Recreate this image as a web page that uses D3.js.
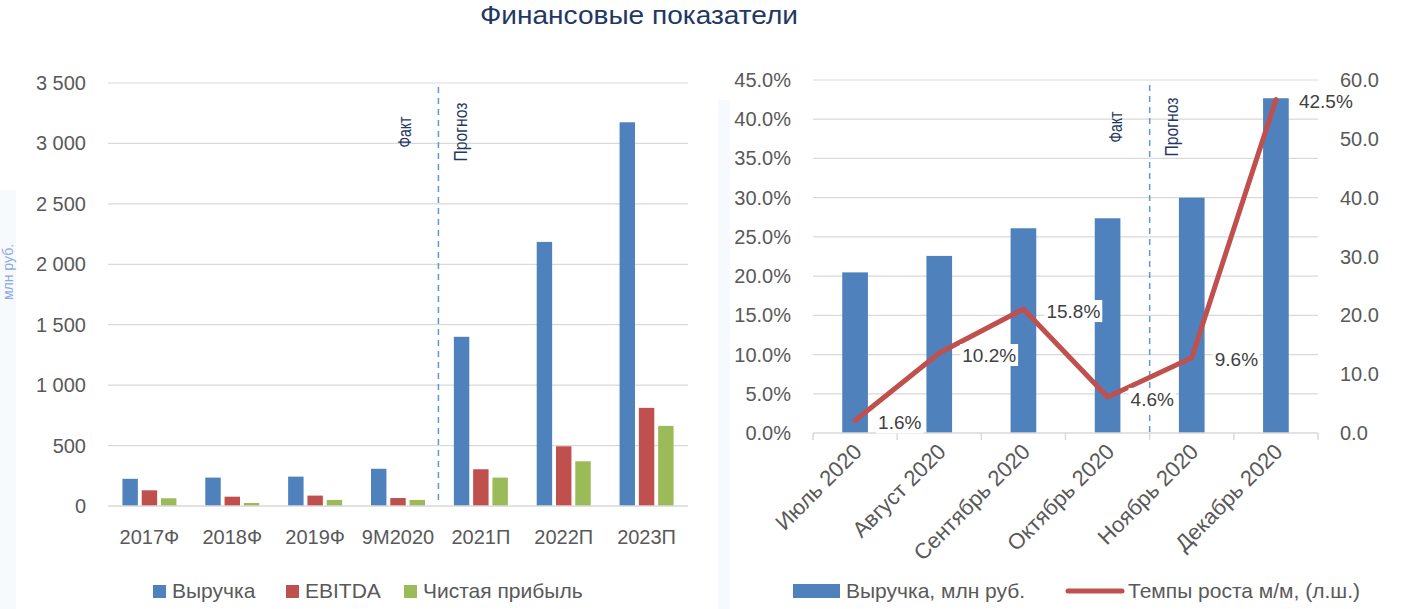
<!DOCTYPE html>
<html>
<head>
<meta charset="utf-8">
<script src="https://cdn.jsdelivr.net/npm/d3@7"></script>
<style>
	html, body { margin: 0; padding: 0; background: #fff; }
	svg { display: block; }
	text { font-family: "Liberation Sans", Arial, sans-serif; }
</style>
</head>
<body>
<svg id="chart" width="1402" height="609"></svg>
<script>
"use strict";

// left chart: annual figures, mln rub
var years = ["2017Ф", "2018Ф", "2019Ф", "9M2020", "2021П", "2022П", "2023П"];
var revenue = [225, 235, 243, 308, 1400, 2185, 3175];
var ebitda = [130, 77, 86, 66, 304, 494, 812];
var netProfit = [64, 25, 50, 50, 235, 370, 663];
var leftSeries = ["Выручка", "EBITDA", "Чистая прибыль"];
var leftTicks = [0, 500, 1000, 1500, 2000, 2500, 3000, 3500];

// right chart: monthly revenue and m/m growth
var months = ["Июль 2020", "Август 2020", "Сентябрь 2020", "Октябрь 2020", "Ноябрь 2020", "Декабрь 2020"];
var monthRevenue = [27.3, 30.1, 34.8, 36.5, 40.0, 56.9];
var growth = [0.016, 0.102, 0.158, 0.046, 0.096, 0.425];
var pctTicks = [0, 0.05, 0.10, 0.15, 0.20, 0.25, 0.30, 0.35, 0.40, 0.45];
var revTicks = [0, 10, 20, 30, 40, 50, 60];

var colors = ["#4f81bd", "#c0504d", "#9bbb59"];
var labelColor = "#595959";
var gridColor = "#d9d9d9";
var navy = "#1f3864";

var svg = d3.select("#chart");

// faint slide background strips
svg.append("rect").attr("x", 0).attr("y", 190).attr("width", 16).attr("height", 419).attr("fill", "#f7fafd");
svg.append("rect").attr("x", 718).attr("y", 100).attr("width", 12).attr("height", 509).attr("fill", "#f6f9fd");

svg.append("text")
    .attr("x", 639).attr("y", 24)
    .attr("text-anchor", "middle")
    .attr("textLength", 318).attr("lengthAdjust", "spacingAndGlyphs")
    .style("font-size", "26px")
    .attr("fill", navy)
    .text("Финансовые показатели");

svg.append("text")
    .attr("transform", "translate(13,272) rotate(-90)")
    .attr("text-anchor", "middle")
    .style("font-size", "14px")
    .attr("fill", "#8eaadb")
    .text("млн руб.");

function factLabels(g, x, y) {
	g.append("text")
	    .attr("transform", "translate(" + (x - 22) + "," + y + ") rotate(-90)")
	    .attr("text-anchor", "middle")
	    .attr("textLength", 31).attr("lengthAdjust", "spacingAndGlyphs")
	    .style("font-size", "19px")
	    .attr("fill", navy)
	    .text("Факт");
	g.append("text")
	    .attr("transform", "translate(" + (x + 34) + "," + y + ") rotate(-90)")
	    .attr("text-anchor", "middle")
	    .attr("textLength", 59).attr("lengthAdjust", "spacingAndGlyphs")
	    .style("font-size", "19px")
	    .attr("fill", navy)
	    .text("Прогноз");
}

// ---------- left chart ----------
(function() {
	var x0 = d3.scaleBand().domain(years).range([108, 688]);
	var bw = x0.bandwidth();
	var x1 = d3.scaleBand().domain(leftSeries).range([bw / 2 - 27, bw / 2 + 27]).paddingInner(0.2);
	var y = d3.scaleLinear().domain([0, 3500]).range([506, 83]);
	var fmt = d3.formatLocale({decimal: ",", thousands: " ", grouping: [3], currency: ["", ""]}).format(",");

	var g = svg.append("g");

	g.append("g").selectAll("line")
	    .data(leftTicks.slice(1))
	  .enter().append("line")
	    .attr("x1", 108).attr("x2", 688)
	    .attr("y1", function(d) { return y(d); })
	    .attr("y2", function(d) { return y(d); })
	    .attr("stroke", gridColor).attr("stroke-width", 1.2);

	g.append("g").selectAll("text")
	    .data(leftTicks)
	  .enter().append("text")
	    .attr("x", 86)
	    .attr("y", function(d) { return y(d); })
	    .attr("dy", "0.35em")
	    .attr("text-anchor", "end")
	    .style("font-size", "20px")
	    .attr("fill", labelColor)
	    .text(function(d) { return fmt(d); });

	var rows = years.map(function(c, i) { return [revenue[i], ebitda[i], netProfit[i]]; });

	var groups = g.append("g").selectAll("g")
	    .data(rows)
	  .enter().append("g")
	    .attr("transform", function(d, i) { return "translate(" + x0(years[i]) + ",0)"; });

	groups.selectAll("rect")
	    .data(function(d) { return d; })
	  .enter().append("rect")
	    .attr("x", function(d, j) { return x1(leftSeries[j]); })
	    .attr("y", function(d) { return y(d); })
	    .attr("width", x1.bandwidth())
	    .attr("height", function(d) { return y(0) - y(d); })
	    .attr("fill", function(d, j) { return colors[j]; });

	g.append("line")
	    .attr("x1", 108).attr("x2", 688)
	    .attr("y1", y(0)).attr("y2", y(0))
	    .attr("stroke", gridColor).attr("stroke-width", 1.5);

	g.append("g").selectAll("text")
	    .data(years)
	  .enter().append("text")
	    .attr("x", function(d) { return x0(d) + bw / 2; })
	    .attr("y", 537)
	    .attr("dy", "0.35em")
	    .attr("text-anchor", "middle")
	    .style("font-size", "20px")
	    .attr("fill", labelColor)
	    .text(function(d) { return d; });

	var split = x0("2021П") - 1;
	g.append("line")
	    .attr("x1", split).attr("x2", split)
	    .attr("y1", 87).attr("y2", 500)
	    .attr("stroke", "#5b9bd5").attr("stroke-width", 1.5)
	    .attr("stroke-dasharray", "6,5");
	factLabels(g, split - 5, 132);

	// legend
	var legX = [153, 286, 404];
	var leg = g.append("g").selectAll("g")
	    .data(leftSeries)
	  .enter().append("g")
	    .attr("transform", function(d, i) { return "translate(" + legX[i] + ",591)"; });
	leg.append("rect")
	    .attr("x", 0).attr("y", -6).attr("width", 13).attr("height", 13)
	    .attr("fill", function(d, i) { return colors[i]; });
	leg.append("text")
	    .attr("x", 19).attr("dy", "0.35em")
	    .style("font-size", "21px")
	    .attr("fill", labelColor)
	    .text(function(d) { return d; });
})();

// ---------- right chart ----------
(function() {
	var x = d3.scaleBand().domain(months).range([813, 1318]).paddingInner(0.695).paddingOuter(0.3475);
	var step = x.step();
	var yL = d3.scaleLinear().domain([0, 0.45]).range([433, 80]);
	var yR = d3.scaleLinear().domain([0, 60]).range([433, 80]);
	var cx = function(d) { return x(d) + x.bandwidth() / 2; };

	var g = svg.append("g");

	g.append("g").selectAll("line")
	    .data(pctTicks.slice(1))
	  .enter().append("line")
	    .attr("x1", 813).attr("x2", 1318)
	    .attr("y1", function(d) { return yL(d); })
	    .attr("y2", function(d) { return yL(d); })
	    .attr("stroke", gridColor).attr("stroke-width", 1.2);

	g.append("g").selectAll("text")
	    .data(pctTicks)
	  .enter().append("text")
	    .attr("x", 791)
	    .attr("y", function(d) { return yL(d); })
	    .attr("dy", "0.35em")
	    .attr("text-anchor", "end")
	    .style("font-size", "20px")
	    .attr("fill", labelColor)
	    .text(d3.format(".1%"));

	g.append("g").selectAll("text")
	    .data(revTicks)
	  .enter().append("text")
	    .attr("x", 1340)
	    .attr("y", function(d) { return yR(d); })
	    .attr("dy", "0.35em")
	    .style("font-size", "20px")
	    .attr("fill", labelColor)
	    .text(d3.format(".1f"));

	g.append("g").selectAll("rect")
	    .data(monthRevenue)
	  .enter().append("rect")
	    .attr("x", function(d, i) { return x(months[i]); })
	    .attr("y", function(d) { return yR(d); })
	    .attr("width", x.bandwidth())
	    .attr("height", function(d) { return yR(0) - yR(d); })
	    .attr("fill", colors[0]);

	// x axis with tick marks between categories
	g.append("line")
	    .attr("x1", 813).attr("x2", 1318)
	    .attr("y1", 433).attr("y2", 433)
	    .attr("stroke", gridColor).attr("stroke-width", 1.5);
	g.append("g").selectAll("line")
	    .data(d3.range(months.length + 1))
	  .enter().append("line")
	    .attr("x1", function(i) { return 813 + i * step; })
	    .attr("x2", function(i) { return 813 + i * step; })
	    .attr("y1", 433).attr("y2", 440)
	    .attr("stroke", gridColor).attr("stroke-width", 1.5);

	g.append("g").selectAll("text")
	    .data(months)
	  .enter().append("text")
	    .attr("transform", function(d) { return "translate(" + (cx(d) + 8) + ",453) rotate(-45)"; })
	    .attr("text-anchor", "end")
	    .style("font-size", "22px")
	    .attr("fill", labelColor)
	    .text(function(d) { return d; });

	var split = x("Ноябрь 2020") - (step - x.bandwidth()) / 2;
	g.append("line")
	    .attr("x1", split).attr("x2", split)
	    .attr("y1", 85).attr("y2", 433)
	    .attr("stroke", "#5b9bd5").attr("stroke-width", 1.5)
	    .attr("stroke-dasharray", "6,5");
	factLabels(g, split - 6, 127);

	var line = d3.line()
	    .x(function(d, i) { return cx(months[i]); })
	    .y(function(d) { return yL(d); });

	g.append("path")
	    .datum(growth)
	    .attr("d", line)
	    .attr("fill", "none")
	    .attr("stroke", colors[1])
	    .attr("stroke-width", 5)
	    .attr("stroke-linecap", "round")
	    .attr("stroke-linejoin", "round");

	var lab = g.append("g").selectAll("g")
	    .data(growth)
	  .enter().append("g")
	    .attr("transform", function(d, i) { return "translate(" + (cx(months[i]) + 23) + "," + (yL(d) + 2) + ")"; });
	lab.append("rect")
	    .attr("x", -2).attr("y", -11).attr("height", 22)
	    .attr("width", 50)
	    .attr("fill", "#fff");
	lab.append("text")
	    .attr("dy", "0.35em")
	    .style("font-size", "19px")
	    .attr("fill", "#404040")
	    .text(d3.format(".1%"));
	lab.each(function() {
		var t = d3.select(this).select("text").node().getComputedTextLength();
		d3.select(this).select("rect").attr("width", t + 4);
	});

	// legend
	g.append("rect")
	    .attr("x", 793).attr("y", 584).attr("width", 47).attr("height", 14)
	    .attr("fill", colors[0]);
	g.append("text")
	    .attr("x", 846).attr("y", 591).attr("dy", "0.35em")
	    .style("font-size", "21px")
	    .attr("fill", labelColor)
	    .text("Выручка, млн руб.");
	g.append("line")
	    .attr("x1", 1068).attr("x2", 1122)
	    .attr("y1", 591).attr("y2", 591)
	    .attr("stroke", colors[1]).attr("stroke-width", 5)
	    .attr("stroke-linecap", "round");
	g.append("text")
	    .attr("x", 1128).attr("y", 591).attr("dy", "0.35em")
	    .style("font-size", "21px")
	    .attr("fill", labelColor)
	    .text("Темпы роста м/м, (л.ш.)");
})();
</script>
</body>
</html>
